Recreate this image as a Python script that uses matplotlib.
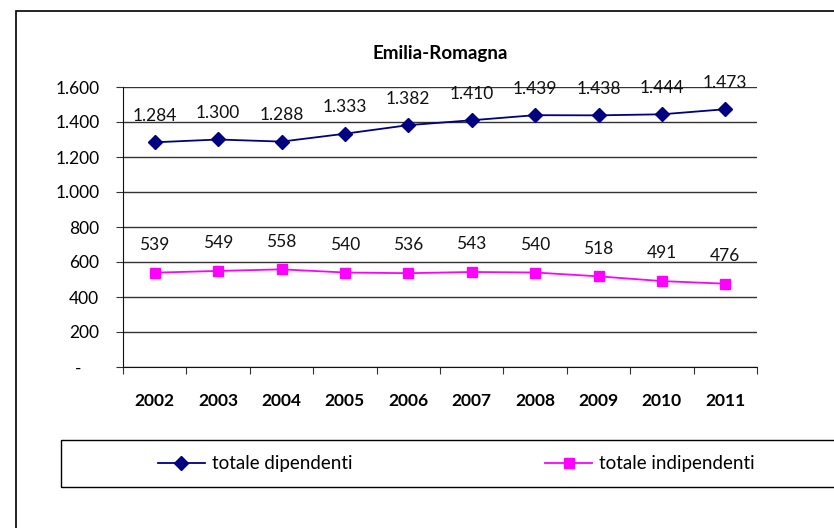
import matplotlib
matplotlib.use('Agg')
import matplotlib.pyplot as plt
from matplotlib.patches import Rectangle
from matplotlib.ticker import FuncFormatter

plt.rcParams['font.family'] = ['Lato', 'DejaVu Sans']

# dati
anni = ['2002', '2003', '2004', '2005', '2006', '2007', '2008', '2009', '2010', '2011']
dipendenti = [1284, 1300, 1288, 1333, 1382, 1410, 1439, 1438, 1444, 1473]
indipendenti = [539, 549, 558, 540, 536, 543, 540, 518, 491, 476]
y_ticks = [0, 200, 400, 600, 800, 1000, 1200, 1400, 1600]


def formato_it(v, pos=None):
    # formato italiano: punto come separatore delle migliaia, zero come '-'
    if v == 0:
        return '-    '
    return f'{int(v):,}'.replace(',', '.')


fig = plt.figure(figsize=(8.34, 5.28), dpi=100)
ax = fig.add_axes([123/834, 1 - 367/528, 634/834, 280/528])

x = list(range(len(anni)))
ax.plot(x, dipendenti, color='#000080', marker='D', markersize=7, linewidth=1.3,
        label='totale dipendenti')
ax.plot(x, indipendenti, color='#FF00FF', marker='s', markersize=7, linewidth=1.3,
        label='totale indipendenti')

# etichette dei valori
for xi, v in zip(x, dipendenti):
    ax.annotate(formato_it(v), xy=(xi, v), xytext=(0, 19), textcoords='offset points',
                ha='center', va='center', fontsize=12.5, color='#111111')
for xi, v in zip(x, indipendenti):
    ax.annotate(formato_it(v), xy=(xi, v), xytext=(0, 20), textcoords='offset points',
                ha='center', va='center', fontsize=12.5, color='#111111')

ax.set_xlim(-0.5, len(anni) - 0.5)
ax.set_ylim(0, 1600)
ax.set_yticks(y_ticks)
ax.yaxis.set_major_formatter(FuncFormatter(formato_it))
ax.set_xticks([i - 0.5 for i in range(len(anni) + 1)])
ax.set_xticklabels([])
ax.set_xticks(x, minor=True)
ax.set_xticklabels(anni, minor=True, fontweight='bold', fontsize=12.5)
ax.tick_params(axis='x', which='minor', length=0, pad=19)
ax.tick_params(axis='x', which='major', length=5, direction='out', color='#333333')
ax.tick_params(axis='y', length=5, direction='out', labelsize=12.5, pad=12, color='#333333')

ax.grid(axis='y', color='#333333', linewidth=1)
ax.set_axisbelow(True)
for s in ['top', 'right']:
    ax.spines[s].set_visible(False)
ax.spines['left'].set_color('#111111')
ax.spines['bottom'].set_color('#111111')

ax.set_title('Emilia-Romagna', fontweight='bold', fontsize=13.5, pad=20)

# bordo del grafico
fig.patches.append(Rectangle((16/834, -0.1), 1.2, 1.1 - 11/528, transform=fig.transFigure,
                             fill=False, edgecolor='black', linewidth=1.2))
# riquadro legenda
fig.patches.append(Rectangle((61/834, 1 - 487/528), 1.0, 47/528, transform=fig.transFigure,
                             fill=False, edgecolor='black', linewidth=1))
fig.legend(loc='center left', bbox_to_anchor=(158/834, 1 - 464/528), ncol=2, frameon=False,
           fontsize=13.5, handlelength=2.5, columnspacing=10.3, handletextpad=0.37,
           borderaxespad=0, borderpad=0)

fig.savefig('out.png', dpi=100)
